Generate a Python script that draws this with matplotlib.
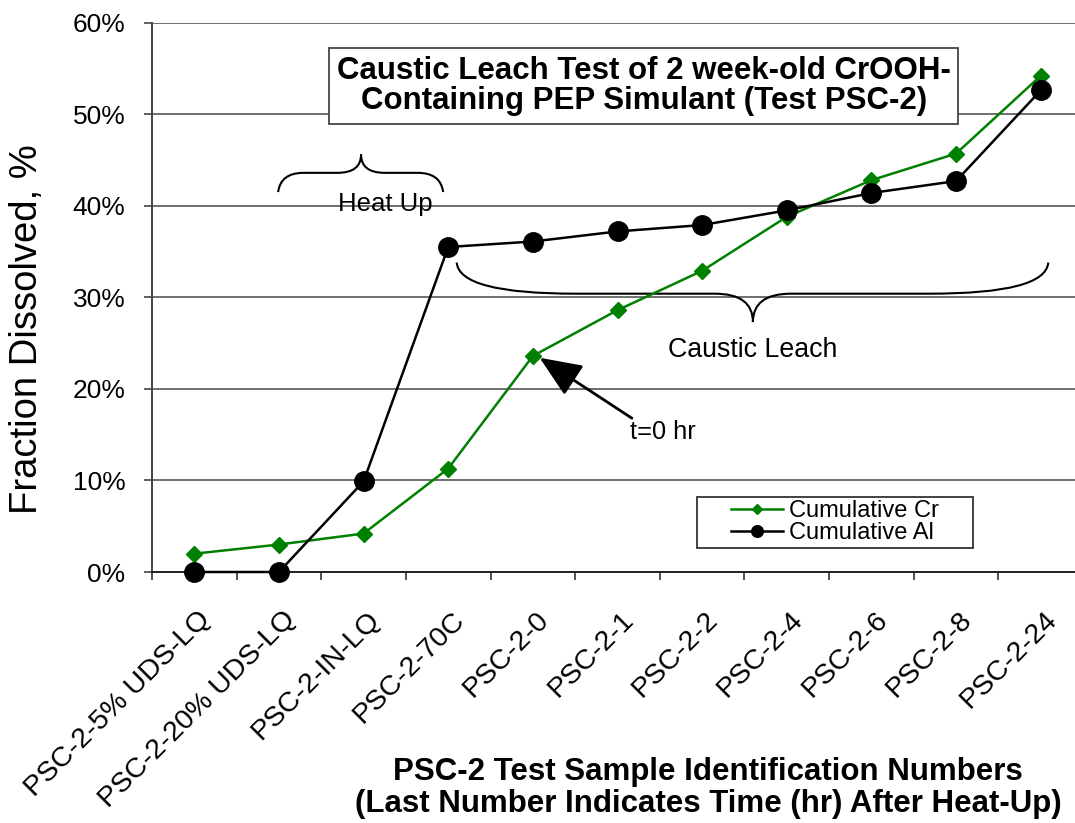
import matplotlib.pyplot as plt
from matplotlib.path import Path
from matplotlib.patches import PathPatch, Rectangle
from matplotlib.ticker import FixedLocator, FuncFormatter
import matplotlib.transforms as mtransforms

plt.rcParams['font.family'] = ['Liberation Sans', 'DejaVu Sans']

# sample ids and cumulative fraction dissolved (%)
samples = ['PSC-2-5% UDS-LQ', 'PSC-2-20% UDS-LQ', 'PSC-2-IN-LQ', 'PSC-2-70C',
           'PSC-2-0', 'PSC-2-1', 'PSC-2-2', 'PSC-2-4', 'PSC-2-6', 'PSC-2-8', 'PSC-2-24']
cum_cr = [2.0, 3.0, 4.2, 11.3, 23.6, 28.6, 32.9, 38.8, 42.8, 45.7, 54.2]
cum_al = [0.0, 0.0, 9.9, 35.5, 36.1, 37.2, 37.9, 39.5, 41.4, 42.7, 52.6]
y_ticks = [0, 10, 20, 30, 40, 50, 60]

green = '#008000'

fig = plt.figure(figsize=(10.75, 8.23), dpi=100)
ax = fig.add_axes([152 / 1075, 1 - 572 / 823, 931 / 1075, 549.3 / 823])

x = list(range(len(samples)))
ax.plot(x, cum_cr, color=green, lw=1.8, marker='D', ms=8.5, label='Cumulative Cr',
        zorder=4, clip_on=False)
ax.plot(x, cum_al, color='black', lw=1.8, marker='o', ms=14, label='Cumulative Al',
        zorder=5, clip_on=False)

ax.set_xlim(-0.5, len(samples) - 0.5)
ax.set_ylim(0, 60)

# y axis
ax.set_yticks(y_ticks)
ax.yaxis.set_major_formatter(FuncFormatter(lambda v, p: f'{v:.0f}%'))
ax.tick_params(axis='y', direction='out', length=6, width=1.2, pad=13, labelsize=19,
               color='#444444')
ax.grid(axis='y', color='#555555', lw=1.2, zorder=0)

# x axis: labels at centres, tick marks on boundaries
ax.set_xticks(x)
ax.set_xticklabels(samples, rotation=45, ha='right', va='top', rotation_mode='anchor')
ax.tick_params(axis='x', which='major', length=0, pad=25, labelsize=20.5)
ax.xaxis.set_minor_locator(FixedLocator([i - 0.5 for i in range(len(samples) + 1)]))
ax.tick_params(axis='x', which='minor', direction='out', length=6, width=1.2, color='#333333')
shift = mtransforms.ScaledTranslation(3 / 100, 0, fig.dpi_scale_trans)
for lab in ax.get_xticklabels():
    lab.set_transform(lab.get_transform() + shift)

for s in ['top', 'right']:
    ax.spines[s].set_visible(False)
ax.spines['left'].set_color('#444444')
ax.spines['left'].set_linewidth(1.4)
ax.spines['bottom'].set_color('#222222')
ax.spines['bottom'].set_linewidth(1.4)

fig.text(27 / 1075, 1 - 329 / 823, 'Fraction Dissolved, %', rotation=90,
         ha='center', va='center', fontsize=27.5)
fig.text(708 / 1075, 1 - 788 / 823,
         'PSC-2 Test Sample Identification Numbers\n(Last Number Indicates Time (hr) After Heat-Up)',
         ha='center', va='center', fontsize=22.5, fontweight='bold', linespacing=1.1)

# title box
ax.text(5.31, 53.1, 'Caustic Leach Test of 2 week-old CrOOH-\nContaining PEP Simulant (Test PSC-2)',
        ha='center', va='center', fontsize=22.5, fontweight='bold', linespacing=1.03, zorder=6,
        bbox=dict(boxstyle='square,pad=0.25', fc='white', ec='#444444', lw=1.3))

# braces
def brace(x0, x1, xm, y_end, y_mid, y_tip, dx_end, dx_tip):
    verts = [(x0, y_end), (x0 + 0.03, y_mid), (x0 + dx_end, y_mid),
             (xm - dx_tip, y_mid), (xm, y_mid), (xm, y_tip),
             (xm, y_mid), (xm + dx_tip, y_mid),
             (x1 - dx_end, y_mid), (x1 - 0.03, y_mid), (x1, y_end)]
    codes = [Path.MOVETO, Path.CURVE3, Path.CURVE3,
             Path.LINETO, Path.CURVE3, Path.CURVE3,
             Path.CURVE3, Path.CURVE3,
             Path.LINETO, Path.CURVE3, Path.CURVE3]
    ax.add_patch(PathPatch(Path(verts, codes), fc='none', ec='black', lw=1.5, zorder=3))

brace(0.99, 2.94, 1.97, 41.5, 43.6, 45.6, 0.3, 0.28)
brace(3.10, 10.09, 6.60, 33.8, 30.4, 27.3, 1.4, 0.45)

ax.text(2.26, 40.2, 'Heat Up', ha='center', va='center', fontsize=18.5, zorder=6)
ax.text(6.60, 24.3, 'Caustic Leach', ha='center', va='center', fontsize=19.3, zorder=6)
ax.text(5.54, 15.3, 't=0 hr', ha='center', va='center', fontsize=18.3, zorder=6)
ax.annotate('', xy=(4.08, 23.4), xytext=(5.17, 16.8),
            arrowprops=dict(arrowstyle='-|>,head_length=1.3,head_width=0.55',
                            mutation_scale=20, lw=2, color='black', shrinkA=0, shrinkB=0),
            zorder=6)

# legend with its own box
ax.add_patch(Rectangle((0.585, 0.044), 0.297, 0.093, transform=ax.transAxes,
                       fc='white', ec='#333333', lw=1.3, zorder=6))
leg = ax.legend(loc='center', bbox_to_anchor=(0.7335, 0.0905), frameon=False,
                fontsize=17, markerscale=0.6, handlelength=2.2, handletextpad=0.25,
                labelspacing=0.0, borderpad=0.1)
leg.set_zorder(7)

fig.savefig('out.png', dpi=100)
